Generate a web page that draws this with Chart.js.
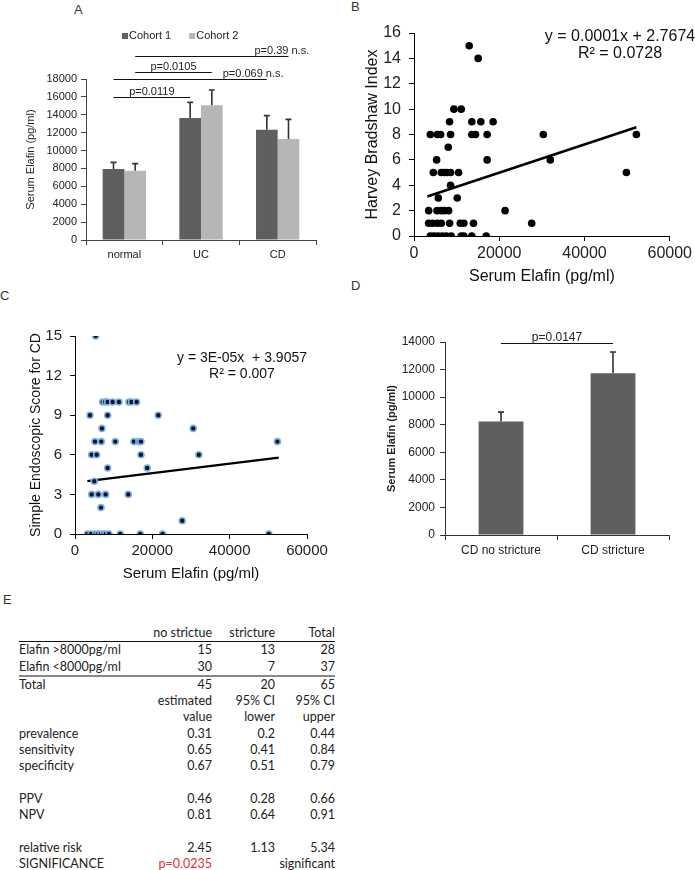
<!DOCTYPE html>
<html>
<head>
<meta charset="utf-8">
<script src="https://cdn.jsdelivr.net/npm/chart.js@4.4.0/dist/chart.umd.min.js"></script>
<style>
body { margin:0; background:#fff; width:695px; height:870px; position:relative; overflow:hidden; font-family:"Liberation Sans", Arial, sans-serif; }
canvas { position:absolute; }
.letter { position:absolute; font-size:13px; line-height:13px; color:#333; }
#tbl { position:absolute; left:19px; top:625px; border-collapse:collapse; table-layout:fixed; font-family:Lato, "Open Sans", sans-serif; font-size:12.5px; color:#222; }
#tbl td { height:16.3px; line-height:16.3px; padding:0; white-space:nowrap; text-align:right; }
#tbl td:first-child { text-align:left; }
</style>
</head>
<body>
<div class="letter" style="left:74px;top:3px">A</div>
<div class="letter" style="left:351px;top:0px">B</div>
<div class="letter" style="left:0px;top:289px">C</div>
<div class="letter" style="left:351px;top:279px">D</div>
<div class="letter" style="left:3px;top:593px">E</div>

<canvas id="cA" width="340" height="270" style="left:0;top:0"></canvas>
<canvas id="cB" width="355" height="290" style="left:340px;top:0"></canvas>
<canvas id="cC" width="340" height="305" style="left:0;top:280px"></canvas>
<canvas id="cD" width="355" height="280" style="left:340px;top:290px"></canvas>
<table id="tbl">
  <colgroup><col style="width:131px"><col style="width:62px"><col style="width:63px"><col style="width:60px"></colgroup>
  <tbody id="tbody"></tbody>
</table>

<script>
// ---- panel A: serum elafin by group, two cohorts
var groups = ['normal', 'UC', 'CD'];
var cohortNames = ['Cohort 1', 'Cohort 2'];
var cohort1Mean = [7940, 13640, 12340];
var cohort1Sd = [740, 1750, 1560];
var cohort2Mean = [7750, 15060, 11290];
var cohort2Sd = [790, 1710, 2200];
var sigTextA = ['p=0.0119', 'p=0.0105', 'p=0.069 n.s.', 'p=0.39 n.s.'];
var sigLevelA = [16000, 18800, 18000, 20600];

// ---- panel B: elafin vs Harvey Bradshaw index
var elafinB = [12950, 15050, 9360, 11080, 8350, 13570, 15680, 18560,
  3830, 5470, 6250, 8580, 13570, 14430, 17160, 30340, 52170, 8040,
  5310, 17160, 31980, 4530, 6400, 7100, 7800, 8580, 10460, 49830, 8580,
  5700, 10140, 3440, 5390, 6400, 7100, 8120, 21370,
  3440, 4370, 5470, 6400, 8350, 10850, 11700, 13960, 27610,
  3830, 4690, 5620, 6640, 7570, 8740, 11080, 11700, 13570, 16930];
var hbiB = [15, 14, 10, 10, 9, 9, 9, 9,
  8, 8, 8, 8, 8, 8, 8, 8, 8, 7,
  6, 6, 6, 5, 5, 5, 5, 5, 5, 5, 4,
  3, 3, 2, 2, 2, 2, 2, 2,
  1, 1, 1, 1, 1, 1, 1, 1, 1,
  0, 0, 0, 0, 0, 0, 0, 0, 0, 0];
var trendBx = [3130, 52170];
var trendBy = [3.11, 8.57];
var eqB = ['y = 0.0001x + 2.7674', 'R\u00b2 = 0.0728'];

// ---- panel C: elafin vs simple endoscopic score
var elafinC = [5340, 7150, 7800, 8440, 9730, 11370, 13950, 14600, 15930,
  3880, 8440, 21530, 6970, 30570,
  5170, 6800, 10420, 15240, 16530, 17050, 52350,
  4310, 5600, 17050, 32030, 8440, 18680, 4990,
  4310, 6030, 7920, 13780, 6720, 27730,
  3190, 4130, 5340, 6000, 6700, 7400, 8000, 8780, 11710, 16880, 22650, 50110];
var sesC = [15, 10, 10, 10, 10, 10, 10, 10, 10,
  9, 9, 9, 8, 8,
  7, 7, 7, 7, 7, 7, 7,
  6, 6, 6, 6, 5, 5, 4,
  3, 3, 3, 3, 2, 1,
  0, 0, 0, 0, 0, 0, 0, 0, 0, 0, 0, 0];
var trendCx = [3200, 52700];
var trendCy = [4.0, 5.78];
var eqC = ['y = 3E-05x  + 3.9057', 'R\u00b2 = 0.007'];

// ---- panel D: stricture
var strictGroups = ['CD no stricture', 'CD stricture'];
var strictMean = [8230, 11740];
var strictSd = [680, 1530];
var sigTextD = ['p=0.0147'];
var sigLevelD = [13900];

// ---- panel E: table
var tblHead = ['', 'no strictue', 'stricture', 'Total'];
var countRows = [
  ['Elafin >8000pg/ml', 15, 13, 28],
  ['Elafin <8000pg/ml', 30, 7, 37]
];
var totalRow = ['Total', 45, 20, 65];
var estHead = [['', 'estimated', '95% CI', '95% CI'], ['', 'value', 'lower', 'upper']];
var statRows = [
  ['prevalence', 0.31, 0.2, 0.44],
  ['sensitivity', 0.65, 0.41, 0.84],
  ['specificity', 0.67, 0.51, 0.79],
  null,
  ['PPV', 0.46, 0.28, 0.66],
  ['NPV', 0.81, 0.64, 0.91],
  null,
  ['relative risk', 2.45, 1.13, 5.34]
];
var sigRow = ['SIGNIFICANCE', 'p=0.0235', '', 'significant'];

Chart.defaults.font.family = '"Liberation Sans", Arial, sans-serif';
Chart.defaults.color = '#222';
Chart.defaults.animation = false;

function errorBars(color) {
  return {
    id: 'errorBars',
    afterDatasetsDraw: function(chart) {
      var ctx = chart.ctx, ys = chart.scales.y;
      ctx.save();
      ctx.strokeStyle = color;
      ctx.lineWidth = 1.6;
      chart.data.datasets.forEach(function(ds, di) {
        if (!ds.sd) return;
        chart.getDatasetMeta(di).data.forEach(function(bar, i) {
          var top = ys.getPixelForValue(ds.data[i] + ds.sd[i]);
          ctx.beginPath();
          ctx.moveTo(bar.x, bar.y);
          ctx.lineTo(bar.x, top);
          ctx.moveTo(bar.x - 3, top);
          ctx.lineTo(bar.x + 3, top);
          ctx.stroke();
        });
      });
      ctx.restore();
    }
  };
}

// significance lines: from/to are [category, dataset]
function sigLines(items, font) {
  return {
    id: 'sigLines',
    afterDraw: function(chart) {
      var ctx = chart.ctx, ys = chart.scales.y;
      ctx.save();
      items.forEach(function(it) {
        var x1 = chart.getDatasetMeta(it.from[1]).data[it.from[0]].x;
        var x2 = chart.getDatasetMeta(it.to[1]).data[it.to[0]].x;
        var py = Math.round(ys.getPixelForValue(it.level)) + 0.5;
        ctx.strokeStyle = '#111';
        ctx.lineWidth = 1.2;
        ctx.beginPath();
        ctx.moveTo(x1, py);
        ctx.lineTo(x2, py);
        ctx.stroke();
        ctx.font = font;
        ctx.fillStyle = '#222';
        ctx.textAlign = 'center';
        ctx.textBaseline = 'alphabetic';
        ctx.fillText(it.text, (x1 + x2) / 2 + (it.dx || 0), py - 3);
      });
      ctx.restore();
    }
  };
}

function textLines(lines, cx, cy, gap, font) {
  return {
    id: 'eqText',
    afterDraw: function(chart) {
      var ctx = chart.ctx;
      ctx.save();
      ctx.font = font;
      ctx.fillStyle = '#111';
      ctx.textAlign = 'center';
      ctx.textBaseline = 'middle';
      lines.forEach(function(t, i) { ctx.fillText(t, cx, cy + i * gap); });
      ctx.restore();
    }
  };
}

var legendA = {
  id: 'legendA',
  afterDraw: function(chart) {
    var ctx = chart.ctx, x = 122, y = 36;
    ctx.save();
    ctx.font = '11px "Liberation Sans", Arial';
    ctx.textBaseline = 'middle';
    chart.data.datasets.forEach(function(ds) {
      ctx.fillStyle = ds.backgroundColor;
      ctx.fillRect(x, y - 3, 6, 6);
      ctx.fillStyle = '#222';
      ctx.fillText(ds.label, x + 7, y);
      x += 7 + ctx.measureText(ds.label).width + 18;
    });
    ctx.restore();
  }
};

function pts(xs, ys) {
  return xs.map(function(x, i) { return {x: x, y: ys[i]}; });
}

function plain(v) { return v; }

// A
new Chart(document.getElementById('cA'), {
  type: 'bar',
  data: {
    labels: groups,
    datasets: [
      {label: cohortNames[0], data: cohort1Mean, sd: cohort1Sd, backgroundColor: '#5f5f5f'},
      {label: cohortNames[1], data: cohort2Mean, sd: cohort2Sd, backgroundColor: '#b6b6b6'}
    ]
  },
  options: {
    responsive: false,
    layout: {padding: {left: 0, right: 24, top: 79, bottom: 5}},
    plugins: {legend: {display: false}, tooltip: {enabled: false}},
    datasets: {bar: {categoryPercentage: 0.565, barPercentage: 1}},
    scales: {
      x: {
        grid: {drawOnChartArea: false, tickLength: 5, color: '#444'},
        border: {color: '#444'},
        ticks: {font: {size: 11}, padding: 3},
        afterFit: function(s) { s.height = 25; }
      },
      y: {
        min: 0, max: 18000,
        ticks: {stepSize: 2000, font: {size: 11}, padding: 4, callback: plain},
        grid: {drawOnChartArea: false, tickLength: 5, color: '#444'},
        border: {color: '#444'},
        title: {display: true, text: 'Serum Elafin (pg/ml)', font: {size: 11}, padding: {top: 24, bottom: 0}},
        afterFit: function(s) { s.width = 86; }
      }
    }
  },
  plugins: [errorBars('#333'), legendA, sigLines([
    {from: [0, 0], to: [1, 0], level: sigLevelA[0], text: sigTextA[0]},
    {from: [0, 1], to: [1, 1], level: sigLevelA[1], text: sigTextA[1]},
    {from: [0, 0], to: [2, 0], level: sigLevelA[2], text: sigTextA[2], dx: 63},
    {from: [0, 1], to: [2, 1], level: sigLevelA[3], text: sigTextA[3], dx: 70}
  ], '11px "Liberation Sans", Arial')]
});

// B
new Chart(document.getElementById('cB'), {
  type: 'scatter',
  data: {
    datasets: [
      {data: pts(elafinB, hbiB), pointRadius: 3.8, backgroundColor: '#000', borderWidth: 0},
      {type: 'line', data: pts(trendBx, trendBy), borderColor: '#000', borderWidth: 2.5, pointRadius: 0}
    ]
  },
  options: {
    responsive: false,
    layout: {padding: {left: 0, right: 24, top: 33, bottom: 0}},
    plugins: {legend: {display: false}, tooltip: {enabled: false}},
    scales: {
      x: {
        type: 'linear', min: 0, max: 60000,
        ticks: {stepSize: 20000, font: {size: 16}, padding: 3, callback: plain},
        grid: {drawOnChartArea: false, tickLength: 5, color: '#000'},
        border: {color: '#000'},
        title: {display: true, text: 'Serum Elafin (pg/ml)', font: {size: 16}, color: '#111', padding: {top: 0, bottom: 4}},
        afterFit: function(s) { s.height = 54; }
      },
      y: {
        min: 0, max: 16,
        ticks: {stepSize: 2, font: {size: 16}, padding: 8, callback: plain},
        grid: {drawOnChartArea: false, tickLength: 5, color: '#000'},
        border: {color: '#000'},
        title: {display: true, text: 'Harvey Bradshaw Index', font: {size: 16}, color: '#111', padding: {top: 23, bottom: 0}},
        afterFit: function(s) { s.width = 74; }
      }
    }
  },
  plugins: [textLines(eqB, 280, 37, 17, '16px "Liberation Sans", Arial')]
});

// C
new Chart(document.getElementById('cC'), {
  type: 'scatter',
  data: {
    datasets: [
      {data: pts(elafinC, sesC), pointRadius: 3, backgroundColor: '#0b1633', borderColor: '#7fb2e3', borderWidth: 1.6},
      {type: 'line', data: pts(trendCx, trendCy), borderColor: '#000', borderWidth: 2.2, pointRadius: 0}
    ]
  },
  options: {
    responsive: false,
    layout: {padding: {left: 0, right: 33, top: 56, bottom: 0}},
    plugins: {legend: {display: false}, tooltip: {enabled: false}},
    scales: {
      x: {
        type: 'linear', min: 0, max: 60000,
        ticks: {stepSize: 20000, font: {size: 15}, padding: 3, callback: plain},
        grid: {drawOnChartArea: false, tickLength: 5, color: '#000'},
        border: {color: '#000'},
        title: {display: true, text: 'Serum Elafin (pg/ml)', font: {size: 15}, color: '#111', padding: {top: 0, bottom: 2}},
        afterFit: function(s) { s.height = 51; }
      },
      y: {
        min: 0, max: 15,
        ticks: {stepSize: 3, font: {size: 15}, padding: 8, callback: plain},
        grid: {drawOnChartArea: false, tickLength: 5, color: '#000'},
        border: {color: '#000'},
        title: {display: true, text: 'Simple Endoscopic Score for CD', font: {size: 14}, color: '#111', padding: {top: 28, bottom: 0}},
        afterFit: function(s) { s.width = 75; }
      }
    }
  },
  plugins: [textLines(eqC, 242, 78, 16, '14px "Liberation Sans", Arial')]
});

// D
new Chart(document.getElementById('cD'), {
  type: 'bar',
  data: {
    labels: strictGroups,
    datasets: [{data: strictMean, sd: strictSd, backgroundColor: '#5f5f5f'}]
  },
  options: {
    responsive: false,
    layout: {padding: {left: 0, right: 26, top: 52, bottom: 0}},
    plugins: {legend: {display: false}, tooltip: {enabled: false}},
    datasets: {bar: {categoryPercentage: 0.4, barPercentage: 1}},
    scales: {
      x: {
        grid: {drawOnChartArea: false, tickLength: 5, color: '#333'},
        border: {color: '#333'},
        ticks: {font: {size: 12}, padding: 3},
        afterFit: function(s) { s.height = 35; }
      },
      y: {
        min: 0, max: 14000,
        ticks: {stepSize: 2000, font: {size: 12}, padding: 5, callback: plain},
        grid: {drawOnChartArea: false, tickLength: 5, color: '#333'},
        border: {color: '#333'},
        title: {display: true, text: 'Serum Elafin (pg/ml)', font: {size: 11, weight: 'bold'}, padding: {top: 45, bottom: 0}},
        afterFit: function(s) { s.width = 105; }
      }
    }
  },
  plugins: [errorBars('#333'), sigLines([
    {from: [0, 0], to: [1, 0], level: sigLevelD[0], text: sigTextD[0]}
  ], '12px "Liberation Sans", Arial')]
});

// E table
(function() {
  var tbody = document.getElementById('tbody');
  function addRow(cells, style) {
    var tr = document.createElement('tr');
    (cells || ['', '', '', '']).forEach(function(c) {
      var td = document.createElement('td');
      td.textContent = c === '' ? '\u00a0' : String(c);
      if (style) td.setAttribute('style', style);
      tr.appendChild(td);
    });
    tbody.appendChild(tr);
    return tr;
  }
  addRow(tblHead, 'border-bottom:1px solid #111');
  countRows.forEach(function(r, i) {
    addRow(r, i === countRows.length - 1 ? 'border-bottom:2px solid #888' : '');
  });
  addRow(totalRow);
  estHead.forEach(function(r) { addRow(r); });
  statRows.forEach(function(r) { addRow(r); });
  var tr = addRow(sigRow);
  tr.children[1].style.color = '#e0312f';
})();
</script>
</body>
</html>
